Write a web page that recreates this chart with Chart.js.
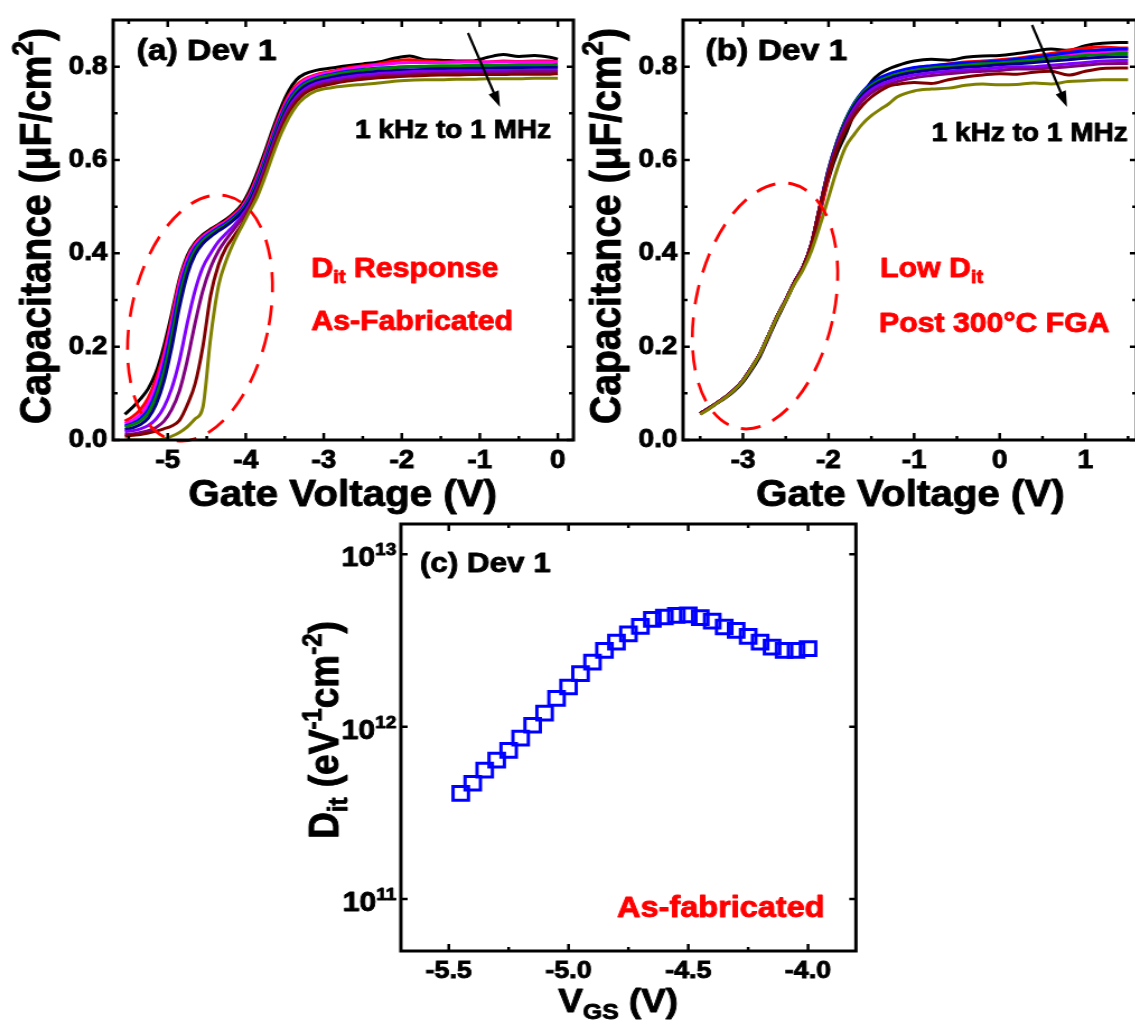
<!DOCTYPE html>
<html>
<head>
<meta charset="utf-8">
<script src="https://cdn.jsdelivr.net/npm/chart.js@4.4.1/dist/chart.umd.min.js"></script>
<style>
  body { margin: 0; background: #fff; }
  #page { position: relative; width: 1135px; height: 1023px; overflow: hidden; background: #fff; }
  /* the original figure is stretched sideways, so each panel is drawn narrow and widened */
  canvas { position: absolute; transform: scaleX(1.12); transform-origin: 0 0; }
</style>
</head>
<body>
<div id="page">
  <canvas id="chartA" width="518" height="520" style="left:0;top:0"></canvas>
  <canvas id="chartB" width="497" height="520" style="left:580px;top:0"></canvas>
  <canvas id="chartC" width="518" height="513" style="left:290px;top:510px"></canvas>
</div>
<script>
const SX = 1.12;

// frequencies, 1 kHz (top) to 1 MHz (bottom)
const freqNames = ['1 kHz', '2 kHz', '5 kHz', '10 kHz', '20 kHz', '50 kHz', '100 kHz', '200 kHz', '500 kHz', '1 MHz'];
const freqColors = ['#000000', '#ff0000', '#ff00ff', '#0000ff', '#008000', '#000080', '#8000ff', '#800080', '#800000', '#808000'];

// (a) as-fabricated C-V, gate voltage (V) / capacitance (uF/cm2)
const gateA = [-5.55, -5.45, -5.35, -5.25, -5.15, -5.05, -4.95, -4.85, -4.75, -4.65, -4.55, -4.45, -4.35, -4.25, -4.15, -4.05, -3.95, -3.85, -3.75, -3.65, -3.55, -3.45, -3.35, -3.25,
  -3.1, -2.9, -2.7, -2.5, -2.3, -2.1, -1.9, -1.7, -1.5, -1.3, -1.1, -0.9, -0.7, -0.5, -0.3, -0.1, 0.0];
const capA_1k = [.055, .07, .088, .11, .145, .20, .27, .345, .395, .423, .44, .452, .462, .473, .487, .505, .535, .575, .62, .668, .712, .748, .772, .784,
  .792, .797, .802, .806, .81, .818, .823, .815, .814, .812, .812, .82, .826, .822, .824, .82, .816];
const capA_2k = [.04, .05, .065, .09, .13, .185, .26, .34, .39, .42, .437, .449, .46, .47, .484, .5, .528, .567, .612, .66, .703, .738, .76, .773,
  .783, .79, .797, .802, .806, .812, .815, .812, .81, .81, .811, .81, .812, .811, .812, .812, .81];
const capA_5k = [.035, .042, .055, .078, .118, .175, .25, .332, .386, .417, .435, .447, .458, .468, .481, .497, .524, .562, .607, .655, .698, .733, .756, .77,
  .781, .788, .795, .8, .804, .807, .809, .809, .809, .81, .81, .81, .81, .81, .81, .81, .81];
const capA_10k = [.03, .036, .046, .066, .103, .16, .236, .32, .378, .412, .431, .444, .455, .465, .478, .494, .52, .557, .602, .65, .693, .728, .751, .765,
  .776, .784, .79, .794, .797, .799, .8, .8, .8, .8, .8, .8, .8, .8, .8, .8, .8];
const capA_20k = [.028, .033, .041, .058, .092, .145, .22, .305, .368, .406, .427, .441, .452, .462, .475, .491, .516, .552, .597, .645, .688, .723, .747, .762,
  .774, .782, .788, .793, .796, .798, .8, .801, .802, .802, .803, .803, .803, .804, .804, .804, .805];
const capA_50k = [.022, .026, .033, .047, .076, .125, .198, .285, .354, .397, .421, .436, .448, .459, .472, .488, .512, .547, .591, .639, .682, .717, .741, .757,
  .769, .777, .783, .787, .79, .792, .793, .794, .795, .795, .796, .796, .797, .797, .797, .798, .798];
const capA_100k = [.018, .02, .024, .031, .045, .07, .11, .17, .25, .32, .37, .40, .425, .443, .46, .48, .505, .541, .585, .633, .676, .711, .735, .751,
  .764, .772, .778, .782, .785, .787, .789, .79, .79, .791, .791, .792, .792, .792, .793, .793, .793];
const capA_200k = [.012, .013, .016, .02, .027, .04, .065, .105, .17, .25, .32, .37, .405, .43, .452, .474, .5, .536, .58, .628, .671, .706, .73, .746,
  .759, .767, .773, .777, .78, .782, .784, .785, .786, .787, .787, .788, .788, .789, .789, .789, .789];
const capA_500k = [.008, .01, .012, .015, .019, .024, .03, .042, .075, .12, .20, .31, .375, .413, .437, .462, .495, .532, .574, .622, .665, .70, .725, .742,
  .755, .763, .769, .773, .776, .778, .78, .781, .782, .782, .783, .783, .783, .784, .784, .784, .785];
const capA_1M = [0, 0, 0, 0, 0, .002, .008, .016, .028, .045, .07, .22, .33, .385, .425, .458, .49, .522, .565, .612, .655, .69, .716, .733,
  .748, .755, .759, .762, .765, .769, .771, .772, .772, .773, .773, .774, .774, .774, .775, .775, .775];

// (b) after 300C FGA
const gateB = [-3.5, -3.4, -3.3, -3.2, -3.1, -3.0, -2.9, -2.8, -2.7, -2.6, -2.5, -2.4, -2.3, -2.2,
  -2.1, -2.0, -1.9, -1.8, -1.7, -1.6, -1.5, -1.4, -1.3, -1.2,
  -1.0, -0.8, -0.6, -0.4, -0.2, 0.0, 0.2, 0.4, 0.6, 0.8, 1.0, 1.2, 1.4, 1.5];
const capB_1k = [.056, .067, .079, .091, .105, .124, .15, .18, .22, .26, .297, .335, .368, .415,
  .49, .56, .615, .655, .70, .74, .768, .785, .795, .802,
  .812, .816, .814, .82, .823, .824, .828, .833, .838, .835, .845, .85, .852, .852];
const capB_2k = [.057, .068, .08, .093, .108, .128, .155, .185, .225, .265, .30, .337, .369, .418,
  .485, .565, .63, .68, .717, .743, .761, .774, .782, .788,
  .796, .801, .806, .81, .812, .815, .818, .823, .828, .835, .84, .842, .84, .84];
const capB_5k = [.057, .068, .08, .093, .108, .128, .155, .185, .225, .265, .30, .338, .37, .42,
  .50, .58, .64, .685, .72, .745, .762, .773, .78, .786,
  .794, .799, .802, .805, .808, .81, .813, .818, .822, .826, .83, .832, .833, .833];
const capB_10k = [.057, .068, .08, .093, .108, .128, .155, .185, .225, .265, .30, .338, .37, .42,
  .50, .58, .64, .687, .722, .747, .764, .776, .784, .79,
  .798, .802, .805, .808, .81, .812, .816, .82, .825, .83, .834, .836, .838, .838];
const capB_20k = [.057, .068, .08, .093, .108, .128, .155, .185, .225, .265, .30, .338, .37, .42,
  .50, .58, .64, .686, .72, .744, .76, .771, .778, .784,
  .792, .797, .80, .803, .806, .808, .811, .814, .818, .821, .824, .826, .828, .828];
const capB_50k = [.057, .068, .08, .093, .108, .128, .155, .185, .225, .265, .30, .338, .37, .42,
  .50, .578, .637, .682, .716, .74, .756, .767, .774, .78,
  .788, .793, .796, .799, .801, .804, .806, .809, .812, .815, .818, .82, .821, .821];
const capB_100k = [.057, .068, .08, .093, .108, .128, .155, .185, .225, .265, .30, .338, .37, .42,
  .50, .575, .633, .677, .71, .734, .75, .761, .768, .774,
  .782, .787, .79, .793, .795, .798, .80, .80, .803, .806, .809, .812, .813, .813];
const capB_200k = [.057, .068, .08, .093, .108, .128, .155, .185, .225, .265, .30, .338, .37, .42,
  .50, .572, .63, .673, .705, .728, .744, .755, .762, .768,
  .776, .781, .785, .788, .79, .792, .795, .795, .797, .80, .803, .806, .807, .807];
const capB_500k = [.057, .068, .08, .093, .108, .128, .155, .185, .225, .265, .30, .338, .37, .42,
  .50, .57, .625, .665, .695, .718, .735, .748, .758, .762,
  .766, .764, .772, .778, .782, .785, .784, .788, .79, .782, .79, .796, .797, .797];
const capB_1M = [.055, .066, .079, .092, .107, .127, .154, .185, .225, .264, .298, .334, .364, .405,
  .46, .52, .58, .628, .655, .678, .695, .708, .72, .735,
  .748, .752, .754, .76, .763, .761, .762, .765, .763, .768, .77, .772, .772, .772];

// (c) extracted Dit vs VGS
const vgsC = [-5.45, -5.40, -5.35, -5.30, -5.25, -5.20, -5.15, -5.10, -5.05, -5.00, -4.95, -4.90, -4.85, -4.80, -4.75,
  -4.70, -4.65, -4.60, -4.55, -4.50, -4.45, -4.40, -4.35, -4.30, -4.25, -4.20, -4.15, -4.10, -4.05, -4.00];
const ditC = [4.1e11, 4.7e11, 5.6e11, 6.4e11, 7.3e11, 8.6e11, 1.02e12, 1.2e12, 1.46e12, 1.70e12, 2.03e12, 2.37e12, 2.77e12, 3.1e12, 3.46e12,
  3.82e12, 4.2e12, 4.33e12, 4.42e12, 4.45e12, 4.29e12, 4.10e12, 3.79e12, 3.62e12, 3.34e12, 3.10e12, 2.90e12, 2.77e12, 2.77e12, 2.84e12];

// tick positions
const tickXA = [-5.5, -5, -4.5, -4, -3.5, -3, -2.5, -2, -1.5, -1, -0.5, 0];
const tickXB = [-3.5, -3, -2.5, -2, -1.5, -1, -0.5, 0, 0.5, 1, 1.5];
const tickYCap = [0, 0.1, 0.2, 0.3, 0.4, 0.5, 0.6, 0.7, 0.8];
const tickXC = [-5.5, -5.25, -5, -4.75, -4.5, -4.25, -4];
const tickYC = [1e11, 1e12, 1e13];

const FONT = '"Liberation Sans", Arial, sans-serif';
Chart.defaults.font.family = FONT;
Chart.defaults.color = '#000';

// text runs: [text, 0 normal | 1 sub | 2 sup]
function drawRuns(ctx, runs, x, y, size, color, align) {
  const small = Math.round(size * 0.66);
  let w = 0;
  runs.forEach(r => {
    ctx.font = 'bold ' + (r[1] ? small : size) + 'px ' + FONT;
    w += ctx.measureText(r[0]).width;
  });
  let cx = align === 'center' ? x - w / 2 : (align === 'right' ? x - w : x);
  ctx.fillStyle = color;
  ctx.strokeStyle = color;
  ctx.lineWidth = 0.9;
  ctx.lineJoin = 'round';
  ctx.textBaseline = 'alphabetic';
  ctx.textAlign = 'left';
  runs.forEach(r => {
    ctx.font = 'bold ' + (r[1] ? small : size) + 'px ' + FONT;
    const dy = r[1] === 1 ? size * 0.22 : (r[1] === 2 ? -size * 0.4 : 0);
    ctx.strokeText(r[0], cx, y + dy);
    ctx.fillText(r[0], cx, y + dy);
    cx += ctx.measureText(r[0]).width;
  });
}

const panelDeco = {
  id: 'panelDeco',
  afterDatasetsDraw(chart, args, opts) {
    const ctx = chart.ctx;
    const a = chart.chartArea;
    ctx.save();
    // ellipse and arrow are given in unstretched page pixels
    ctx.save();
    ctx.scale(1 / SX, 1);
    if (opts.ellipse) {
      const e = opts.ellipse;
      ctx.beginPath();
      ctx.setLineDash([20, 13]);
      ctx.lineWidth = 3;
      ctx.strokeStyle = '#ff0000';
      ctx.ellipse(e.cx, e.cy, e.rx, e.ry, e.rot * Math.PI / 180, 0, Math.PI * 2);
      ctx.stroke();
      ctx.setLineDash([]);
    }
    if (opts.arrow) {
      const [x1, y1, x2, y2] = opts.arrow;
      const ang = Math.atan2(y2 - y1, x2 - x1);
      ctx.strokeStyle = '#000';
      ctx.fillStyle = '#000';
      ctx.lineWidth = 2.5;
      ctx.beginPath();
      ctx.moveTo(x1, y1);
      ctx.lineTo(x2 - 10 * Math.cos(ang), y2 - 10 * Math.sin(ang));
      ctx.stroke();
      ctx.beginPath();
      ctx.moveTo(x2, y2);
      ctx.lineTo(x2 - 16 * Math.cos(ang) + 5.5 * Math.sin(ang), y2 - 16 * Math.sin(ang) - 5.5 * Math.cos(ang));
      ctx.lineTo(x2 - 16 * Math.cos(ang) - 5.5 * Math.sin(ang), y2 - 16 * Math.sin(ang) + 5.5 * Math.cos(ang));
      ctx.closePath();
      ctx.fill();
    }
    ctx.restore();
    // frame with inward ticks on all sides
    ctx.lineWidth = 3;
    ctx.strokeStyle = '#000';
    ctx.strokeRect(a.left, a.top, a.right - a.left, a.bottom - a.top);
    ctx.lineWidth = 2.5;
    const xs = chart.scales.x, ys = chart.scales.y;
    xs.ticks.forEach(t => {
      const p = xs.getPixelForValue(t.value);
      const len = t.label ? 7 : 4;
      ctx.beginPath();
      ctx.moveTo(p, a.bottom); ctx.lineTo(p, a.bottom - len);
      ctx.moveTo(p, a.top); ctx.lineTo(p, a.top + len);
      ctx.stroke();
    });
    ys.ticks.forEach(t => {
      const p = ys.getPixelForValue(t.value);
      const len = (t.label || opts.logY) ? 6 : 4;
      ctx.beginPath();
      ctx.moveTo(a.left, p); ctx.lineTo(a.left + len, p);
      ctx.moveTo(a.right, p); ctx.lineTo(a.right - len, p);
      ctx.stroke();
    });
    // 10^n labels for the log axis
    if (opts.logY) {
      ys.ticks.forEach(t => {
        const p = ys.getPixelForValue(t.value);
        const exp = String(Math.round(Math.log10(t.value)));
        ctx.font = 'bold 17px ' + FONT;
        const ew = ctx.measureText(exp).width;
        ctx.font = 'bold 27px ' + FONT;
        const bw = ctx.measureText('10').width;
        drawRuns(ctx, [['10', 0]], a.left - 4 - ew - bw, p + 12, 27, '#000', 'left');
        drawRuns(ctx, [[exp, 0]], a.left - 4 - ew, p + 1, 17, '#000', 'left');
      });
    }
    (opts.texts || []).forEach(t => drawRuns(ctx, t.runs, t.x, t.y, t.size, t.color, 'left'));
    ctx.restore();
  },
  afterDraw(chart, args, opts) {
    const ctx = chart.ctx;
    ctx.save();
    if (opts.xTitle) {
      const t = opts.xTitle;
      drawRuns(ctx, t.runs, t.x, t.y, t.size, '#000', 'center');
    }
    if (opts.yTitle) {
      const t = opts.yTitle;
      ctx.translate(t.x, t.y);
      ctx.rotate(-Math.PI / 2);
      drawRuns(ctx, t.runs, 0, 0, t.size, '#000', 'center');
    }
    ctx.restore();
  }
};

const tickFont = { size: 25, weight: 'bold' };

function capDatasets(xs, series) {
  return series.map((ys, i) => ({
    label: freqNames[i],
    data: xs.map((x, j) => ({ x: x, y: ys[j] })),
    borderColor: freqColors[i],
    borderWidth: 3,
    pointRadius: 0,
    cubicInterpolationMode: 'monotone',
    order: series.length - 1 - i
  }));
}

function capOptions(xMin, xMax, xTicks, yWidth, padRight, deco) {
  return {
    responsive: false,
    animation: false,
    events: [],
    layout: { padding: { top: 15, right: padRight, left: 0, bottom: 0 } },
    plugins: { legend: { display: false }, tooltip: { enabled: false }, panelDeco: deco },
    scales: {
      x: {
        type: 'linear', min: xMin, max: xMax,
        afterBuildTicks: s => { s.ticks = xTicks.map(v => ({ value: v })); },
        afterFit: s => { s.height = 80; },
        grid: { display: false, drawTicks: false },
        border: { display: false },
        ticks: { autoSkip: false, maxRotation: 0, padding: 6, font: tickFont, color: '#000',
          textStrokeColor: '#000', textStrokeWidth: 0.9,
          callback: v => Number.isInteger(v) ? String(v) : '' }
      },
      y: {
        type: 'linear', min: 0, max: 0.9,
        afterBuildTicks: s => { s.ticks = tickYCap.map(v => ({ value: v })); },
        afterFit: s => { s.width = yWidth; },
        grid: { display: false, drawTicks: false },
        border: { display: false },
        ticks: { autoSkip: false, padding: 5, font: tickFont, color: '#000',
          textStrokeColor: '#000', textStrokeWidth: 0.9,
          callback: v => (Math.round(v * 10) % 2 === 0) ? v.toFixed(1) : '' }
      }
    }
  };
}

const capTitle = [['Capacitance (μF/cm', 0], ['2', 2], [')', 0]];
const gateTitle = [['Gate Voltage (V)', 0]];

new Chart(document.getElementById('chartA'), {
  type: 'line',
  data: { datasets: capDatasets(gateA, [capA_1k, capA_2k, capA_5k, capA_10k, capA_20k, capA_50k, capA_100k, capA_200k, capA_500k, capA_1M]) },
  options: capOptions(-5.7, 0.2, tickXA, 101, 6, {
    ellipse: { cx: 200, cy: 318, rx: 69, ry: 125, rot: 12.3 },
    arrow: [468, 33, 500, 107],
    texts: [
      { runs: [['(a) Dev 1', 0]], x: 122, y: 60, size: 30, color: '#000' },
      { runs: [['1 kHz to 1 MHz', 0]], x: 317, y: 138, size: 25, color: '#000' },
      { runs: [['D', 0], ['it', 1], [' Response', 0]], x: 278, y: 277, size: 27, color: '#ff0000' },
      { runs: [['As-Fabricated', 0]], x: 278, y: 330, size: 27, color: '#ff0000' }
    ],
    xTitle: { runs: gateTitle, x: 306, y: 506, size: 36 },
    yTitle: { runs: capTitle, x: 45, y: 226, size: 39 }
  }),
  plugins: [panelDeco]
});

new Chart(document.getElementById('chartB'), {
  type: 'line',
  data: { datasets: capDatasets(gateB, [capB_1k, capB_2k, capB_5k, capB_10k, capB_20k, capB_50k, capB_100k, capB_200k, capB_500k, capB_1M]) },
  options: capOptions(-3.7, 1.6, tickXB, 92, 0, {
    ellipse: { cx: 185, cy: 306, rx: 69, ry: 125, rot: 12.7 },
    arrow: [452, 25, 487, 107],
    texts: [
      { runs: [['(b) Dev 1', 0]], x: 112, y: 60, size: 30, color: '#000' },
      { runs: [['1 kHz to 1 MHz', 0]], x: 314, y: 141, size: 25, color: '#000' },
      { runs: [['Low D', 0], ['it', 1]], x: 268, y: 277, size: 27, color: '#ff0000' },
      { runs: [['Post 300°C FGA', 0]], x: 267, y: 332, size: 27, color: '#ff0000' }
    ],
    xTitle: { runs: gateTitle, x: 295, y: 506, size: 36 },
    yTitle: { runs: capTitle, x: 36, y: 226, size: 39 }
  }),
  plugins: [panelDeco]
});

new Chart(document.getElementById('chartC'), {
  type: 'scatter',
  data: {
    datasets: [{
      label: 'As-fabricated',
      data: vgsC.map((x, i) => ({ x: x, y: ditC[i] })),
      pointStyle: 'rect',
      pointRadius: 9.7,
      borderWidth: 3,
      borderColor: '#0000ff',
      backgroundColor: 'rgba(0,0,0,0)',
      showLine: false
    }]
  },
  options: {
    responsive: false,
    animation: false,
    events: [],
    layout: { padding: { top: 14, right: 12, left: 0, bottom: 0 } },
    plugins: {
      legend: { display: false }, tooltip: { enabled: false },
      panelDeco: {
        logY: true,
        texts: [
          { runs: [['(c) Dev 1', 0]], x: 116, y: 62, size: 28, color: '#000' },
          { runs: [['As-fabricated', 0]], x: 292, y: 407, size: 29, color: '#ff0000' }
        ],
        xTitle: { runs: [['V', 0], ['GS', 1], [' (V)', 0]], x: 293, y: 502, size: 33 },
        yTitle: { runs: [['D', 0], ['it', 1], [' (eV', 0], ['-1', 2], ['cm', 0], ['-2', 2], [')', 0]], x: 43, y: 220, size: 37 }
      }
    },
    scales: {
      x: {
        type: 'linear', min: -5.7, max: -3.8,
        afterBuildTicks: s => { s.ticks = tickXC.map(v => ({ value: v })); },
        afterFit: s => { s.height = 72; },
        grid: { display: false, drawTicks: false },
        border: { display: false },
        ticks: { autoSkip: false, maxRotation: 0, padding: 6, font: { size: 24, weight: 'bold' }, color: '#000',
          textStrokeColor: '#000', textStrokeWidth: 0.9,
          callback: v => (Math.round(v * 100) % 50 === 0) ? v.toFixed(1) : '' }
      },
      y: {
        type: 'logarithmic', min: 5e10, max: 1.5e13,
        afterBuildTicks: s => { s.ticks = tickYC.map(v => ({ value: v })); },
        afterFit: s => { s.width = 99; },
        grid: { display: false, drawTicks: false },
        border: { display: false },
        ticks: { display: false }
      }
    }
  },
  plugins: [panelDeco]
});
</script>
</body>
</html>
